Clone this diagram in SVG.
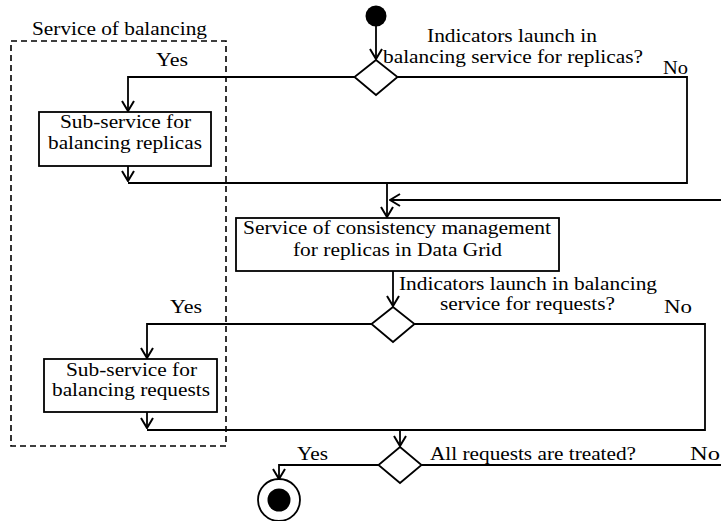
<svg xmlns="http://www.w3.org/2000/svg" width="721" height="521" viewBox="0 0 721 521">
  <style>
    .line { fill: none; stroke: #000; stroke-width: 1.8; }
    .box { fill: #fff; stroke: #000; stroke-width: 1.8; }
    .dash { fill: none; stroke: #000; stroke-width: 1.6; stroke-dasharray: 6 4; }
    .t { font-family: "Liberation Serif", "Times New Roman", serif; font-size: 19px; fill: #000; }
    .arrow { marker-end: url(#open); }
  </style>
  <defs>
    <marker id="open" markerUnits="userSpaceOnUse" viewBox="0 0 12 14" refX="11" refY="7" markerWidth="12" markerHeight="14" orient="auto">
      <path d="M1,1 L11,7 L1,13" fill="none" stroke="#000" stroke-width="2"/>
    </marker>
  </defs>

  <rect width="721" height="521" fill="#fff"/>

  <!-- balancing service frame -->
  <g id="service-of-balancing">
    <rect class="dash" x="11" y="41" width="215" height="405"/>
    <text class="t" x="32" y="35" textLength="175" lengthAdjust="spacingAndGlyphs">Service of balancing</text>
  </g>

  <!-- connectors -->
  <g id="connectors">
    <path class="line arrow" d="M376,26 V59"/>
    <path class="line arrow" d="M354.5,77 H128 V111"/>
    <path class="line" d="M397.5,77 H687 V183 H128"/>
    <path class="line arrow" d="M128,166 V181"/>
    <path class="line arrow" d="M387,183 V217"/>
    <path class="line arrow" d="M721,200 H390"/>
    <path class="line arrow" d="M393,271 V306"/>
    <path class="line arrow" d="M371.5,324 H147 V358"/>
    <path class="line" d="M414.5,324 H705 V430 H147"/>
    <path class="line arrow" d="M147,412 V428"/>
    <path class="line arrow" d="M400,430 V446"/>
    <path class="line" d="M421.5,465 H721"/>
    <path class="line arrow" d="M378.5,465 H279 V479"/>
  </g>

  <!-- branch labels -->
  <g id="labels">
    <text class="t" x="156" y="66" textLength="32" lengthAdjust="spacingAndGlyphs">Yes</text>
    <text class="t" x="663" y="74" textLength="25" lengthAdjust="spacingAndGlyphs">No</text>
    <text class="t" x="170" y="313" textLength="32" lengthAdjust="spacingAndGlyphs">Yes</text>
    <text class="t" x="664" y="313" textLength="28" lengthAdjust="spacingAndGlyphs">No</text>
    <text class="t" x="297" y="460" textLength="31" lengthAdjust="spacingAndGlyphs">Yes</text>
    <text class="t" x="690" y="460" textLength="30" lengthAdjust="spacingAndGlyphs">No</text>
  </g>

  <g id="start">
    <circle cx="376" cy="16" r="10.5" fill="#000"/>
  </g>

  <g id="decision-replicas">
    <polygon class="box" points="376,60 397.5,77 376,95 354.5,77"/>
    <text class="t" x="427" y="41.5" textLength="170" lengthAdjust="spacingAndGlyphs">Indicators launch in</text>
    <text class="t" x="383" y="63" textLength="260" lengthAdjust="spacingAndGlyphs">balancing service for replicas?</text>
  </g>

  <g id="sub-service-replicas">
    <rect class="box" x="39" y="112" width="172" height="54"/>
    <text class="t" x="60" y="128" textLength="131" lengthAdjust="spacingAndGlyphs">Sub-service for</text>
    <text class="t" x="48" y="149" textLength="154" lengthAdjust="spacingAndGlyphs">balancing replicas</text>
  </g>

  <g id="consistency-management">
    <rect class="box" x="236" y="218" width="323" height="53"/>
    <text class="t" x="243" y="234" textLength="308" lengthAdjust="spacingAndGlyphs">Service of consistency management</text>
    <text class="t" x="293" y="256" textLength="209" lengthAdjust="spacingAndGlyphs">for replicas in Data Grid</text>
  </g>

  <g id="decision-requests">
    <polygon class="box" points="393,307 414.5,324 393,342 371.5,324"/>
    <text class="t" x="399" y="290" textLength="258" lengthAdjust="spacingAndGlyphs">Indicators launch in balancing</text>
    <text class="t" x="440" y="310" textLength="175" lengthAdjust="spacingAndGlyphs">service for requests?</text>
  </g>

  <g id="sub-service-requests">
    <rect class="box" x="44" y="359" width="173" height="53"/>
    <text class="t" x="66" y="376" textLength="131" lengthAdjust="spacingAndGlyphs">Sub-service for</text>
    <text class="t" x="52" y="396" textLength="158" lengthAdjust="spacingAndGlyphs">balancing requests</text>
  </g>

  <g id="decision-treated">
    <polygon class="box" points="400,447 421.5,465 400,483 378.5,465"/>
    <text class="t" x="430" y="460" textLength="206" lengthAdjust="spacingAndGlyphs">All requests are treated?</text>
  </g>

  <g id="end">
    <circle cx="279" cy="500" r="21" fill="#fff" stroke="#000" stroke-width="1.8"/>
    <circle cx="279" cy="500" r="11.5" fill="#000"/>
  </g>
</svg>
